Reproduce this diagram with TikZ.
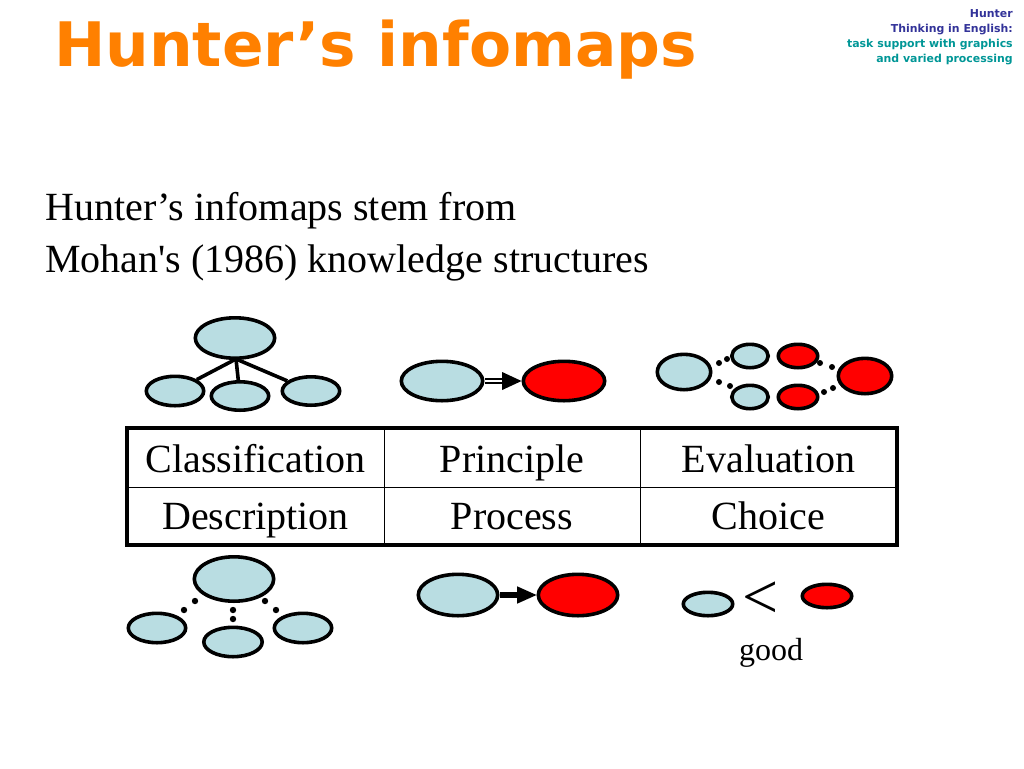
\documentclass[tikz,border=0pt]{standalone}
\usepackage{fontspec}
\setmainfont{Liberation Serif}
\newfontfamily\titlefont{DejaVu Sans}
\usetikzlibrary{shapes.geometric,arrows.meta}
\definecolor{ttlorange}{RGB}{255,128,0}
\definecolor{hdblue}{RGB}{51,51,153}
\definecolor{hdteal}{RGB}{0,150,150}
\definecolor{lblue}{RGB}{185,221,226}
\tikzset{
  ell/.style 2 args={ellipse, draw=black, line width=2.7pt,
    minimum width={(#1-3.6)*0.75pt}, minimum height={(#2-3.6)*0.75pt}, inner sep=0pt},
  blu/.style={fill=lblue},
  rd/.style={fill=red},
  link/.style={line width=2.7pt},
  dotr/.style={fill=black},
  cell/.style={font=\fontsize{30pt}{36pt}\selectfont, anchor=base, inner sep=0pt},
  hdr/.style={font=\titlefont\bfseries\fontsize{8.2pt}{10pt}\selectfont, anchor=base east, inner sep=0pt},
}
\begin{document}
\begin{tikzpicture}[x=0.75pt,y=-0.75pt]
\useasboundingbox (0,0) rectangle (1024,768);
% title
\node[anchor=base west, inner sep=0pt, text=ttlorange,
  font=\titlefont\bfseries\fontsize{46pt}{50pt}\selectfont] (title) at (54,66) {Hunter’s infomaps};
% header
\node[hdr, text=hdblue] (h1t) at (1013,17) {Hunter};
\node[hdr, text=hdblue] (h2t) at (1013,32) {Thinking in English:};
\node[hdr, text=hdteal] (h3t) at (1013,47) {task support with graphics};
\node[hdr, text=hdteal] (h4t) at (1013,62) {and varied processing};
% body
\node[anchor=base west, inner sep=0pt, font=\fontsize{30pt}{36pt}\selectfont] (b1) at (45,220) {Hunter’s infomaps stem from};
\node[anchor=base west, inner sep=0pt, font=\fontsize{30pt}{36pt}\selectfont] (b2) at (45,272) {Mohan\textquotesingle s (1986) knowledge structures};
% table
\draw[line width=0.75pt] (384,428) -- (384,545) (640,428) -- (640,545) (127,487) -- (897,487);
\draw[line width=2.3pt] (127,428) rectangle (897,545);
\node[cell] (t11) at (255.5,472) {Classification};
\node[cell] (t12) at (512,472) {Principle};
\node[cell] (t13) at (768.5,472) {Evaluation};
\node[cell] (t21) at (255.5,529) {Description};
\node[cell] (t22) at (512,529) {Process};
\node[cell] (t23) at (768.5,529) {Choice};
% Classification
\node[ell={83}{44}, blu] (c0) at (235,338) {};
\node[ell={61}{33}, blu] (c1) at (175,391) {};
\node[ell={61}{32}, blu] (c2) at (240,396) {};
\node[ell={61}{32}, blu] (c3) at (311,391) {};
\coordinate (cj) at (236,359);
\draw[link] (cj) -- (c1);
\draw[link] (cj) -- (c2);
\draw[link] (cj) -- (c3);
% Principle
\node[ell={85}{43}, blu] (p1) at (442,381) {};
\node[ell={85}{43}, rd] (p2) at (564,381) {};
\coordinate (pa) at (503,381);
\draw[line width=1pt, double, double distance=2.2pt] (p1.east) -- (pa);
\draw[line width=0.5pt, -{Triangle[length=14.5pt,width=13.5pt,line width=0pt]}] (pa) -- (p2.west);
% Evaluation
\node[ell={57}{39}, blu] (e0) at (684,372) {};
\node[ell={40}{27}, blu] (e1) at (750,356) {};
\node[ell={43}{27}, rd] (e2) at (798,356) {};
\node[ell={40}{27}, blu] (e3) at (750,397) {};
\node[ell={43}{27}, rd] (e4) at (798,397) {};
\node[ell={57}{39}, rd] (e5) at (865,376) {};
\foreach \p in {(719,363),(727,359),(719,382),(730,386),(820,363),(832,367),(824,392),(833,388)}
  \fill[dotr] \p circle (3);
% Description
\node[ell={83}{48}, blu] (d0) at (234,579) {};
\node[ell={61}{33}, blu] (d1) at (157,628) {};
\node[ell={62}{33}, blu] (d2) at (233,642) {};
\node[ell={61}{33}, blu] (d3) at (303,628) {};
\foreach \p in {(195,601),(184,610),(233,610),(233,619),(265,601),(276,610)}
  \fill[dotr] \p circle (3.2);
% Process
\node[ell={83}{45}, blu] (q1) at (458,595) {};
\node[ell={83}{45}, rd] (q2) at (578,595) {};
\draw[line width=4.5pt, -{Triangle[length=14.5pt,width=13pt,line width=0pt]}] (q1.east) -- (q2.west);
% Choice
\node[ell={53}{27}, blu] (ch1) at (708,604) {};
\node[ell={53}{27}, rd] (ch2) at (827,596) {};
\node[inner sep=0pt, font=\fontsize{48pt}{50pt}\selectfont] (lt) at (761,600) {<};
\node[anchor=base, inner sep=0pt, font=\fontsize{24pt}{28pt}\selectfont] (good) at (771,660) {good};
\end{tikzpicture}
\end{document}
